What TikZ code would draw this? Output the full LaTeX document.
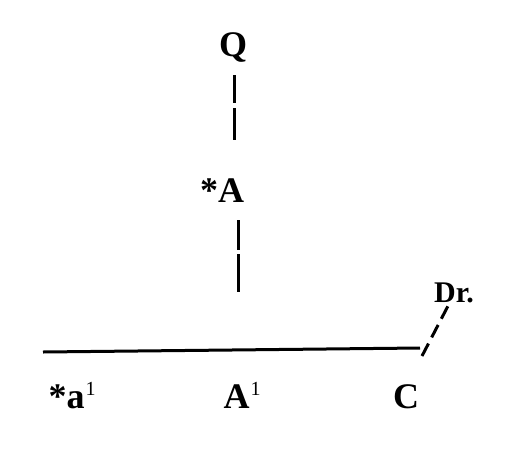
\documentclass[tikz,border=0pt]{standalone}
\usepackage{fontspec}
\setmainfont{Liberation Serif}
\newcommand{\supone}{\raisebox{13pt}{\fontsize{20}{22}\selectfont\mdseries 1}}
\begin{document}
\begin{tikzpicture}[x=1pt,y=-1pt,
  lbl/.style={inner sep=0pt,font=\fontsize{36}{40}\selectfont\bfseries},
  ln/.style={line width=3pt}]
\useasboundingbox (0,0) rectangle (506,469);
\node[lbl] (Q) at (233,47) {Q};
\node[lbl] (A) at (222,191) {*A};
\node[lbl,anchor=base] (a1) at (72,408) {*a\kern1pt\supone};
\node[lbl,anchor=base] (A1) at (242,408) {A\kern1pt\supone};
\node[lbl] (C) at (406,397) {C};
\node[lbl,font=\fontsize{30}{34}\selectfont\bfseries] (Dr) at (454,293) {Dr.};
\coordinate (q1) at (234,75);
\coordinate (q2) at (234,140);
\coordinate (s1) at (238,220);
\coordinate (s2) at (238,292);
\coordinate (L) at (43,352);
\coordinate (R) at (420,348);
\coordinate (d1) at (422,356);
\coordinate (d2) at (449,304);
\draw[ln,dash pattern=on 28pt off 5pt on 32pt off 5pt] (q1) -- (q2);
\draw[ln,dash pattern=on 30pt off 4pt on 38pt off 4pt] (s1) -- (s2);
\draw[ln] (L) -- (R);
\draw[ln,dash pattern=on 14pt off 7pt] (d1) -- (d2);
\end{tikzpicture}
\end{document}
